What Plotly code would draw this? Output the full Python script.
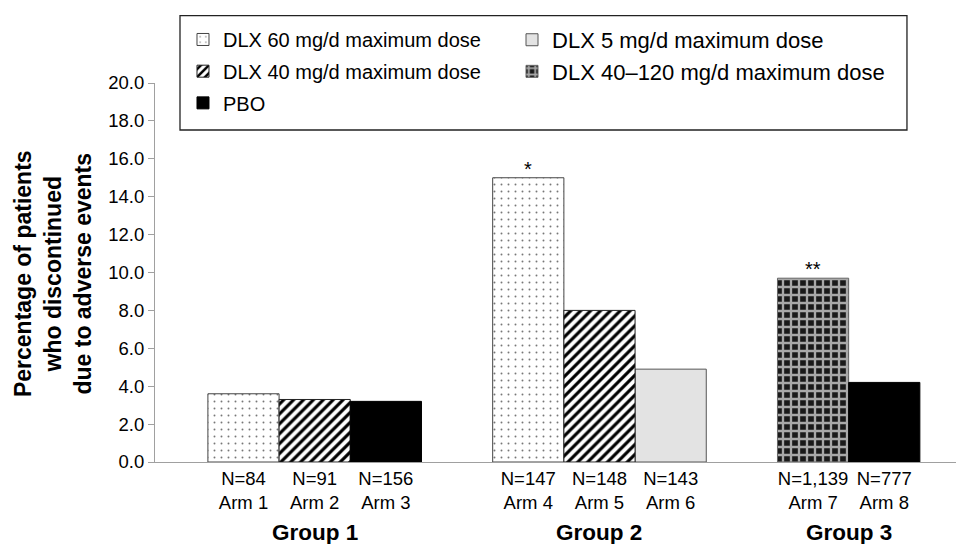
import plotly.graph_objects as go

# ---- data ----
series_names = ["DLX 60 mg/d maximum dose", "DLX 5 mg/d maximum dose",
                "DLX 40 mg/d maximum dose", "DLX 40\u2013120 mg/d maximum dose", "PBO"]
arm_pos = [1, 2, 3, 5, 6, 7, 9, 10]
arm_labels = ["N=84<br>Arm 1", "N=91<br>Arm 2", "N=156<br>Arm 3",
              "N=147<br>Arm 4", "N=148<br>Arm 5", "N=143<br>Arm 6",
              "N=1,139<br>Arm 7", "N=777<br>Arm 8"]
dlx60_x = [1, 5]
dlx60_y = [3.6, 15.0]
dlx5_x = [7]
dlx5_y = [4.9]
dlx40_x = [2, 6]
dlx40_y = [3.3, 8.0]
dlx40120_x = [9]
dlx40120_y = [9.7]
pbo_x = [3, 10]
pbo_y = [3.2, 4.2]
groups = ["Group 1", "Group 2", "Group 3"]
group_pos = [2, 6, 9.5]
stars = [(5, 15.0, "*"), (9, 9.7, "**")]

FONT = "Liberation Sans, Arial, sans-serif"

fig = go.Figure()
fig.add_trace(go.Bar(
    x=dlx60_x, y=dlx60_y, name=series_names[0], width=1, legend="legend",
    legendgroup="a1",
    marker=dict(color="white", line=dict(color="#444444", width=1),
                pattern=dict(shape=".", fgcolor="#777777", bgcolor="white",
                             size=7, solidity=0.06, fillmode="replace"))))
fig.add_trace(go.Bar(
    x=dlx5_x, y=dlx5_y, name=series_names[1], width=1, legend="legend2",
    legendgroup="b1",
    marker=dict(color="#e3e3e3", line=dict(color="#555555", width=1))))
fig.add_trace(go.Bar(
    x=dlx40_x, y=dlx40_y, name=series_names[2], width=1, legend="legend",
    legendgroup="a2",
    marker=dict(color="white", line=dict(color="#222222", width=1),
                pattern=dict(shape="/", fgcolor="black", bgcolor="white",
                             size=7, solidity=0.45, fillmode="replace"))))
fig.add_trace(go.Bar(
    x=dlx40120_x, y=dlx40120_y, name=series_names[3], width=1, legend="legend2",
    legendgroup="b2",
    marker=dict(color="#777777", line=dict(color="#666666", width=1),
                pattern=dict(shape="+", fgcolor="#a8a8a8", bgcolor="#1a1a1a",
                             size=8, solidity=0.5, fillmode="replace"))))
fig.add_trace(go.Bar(
    x=pbo_x, y=pbo_y, name=series_names[4], width=1, legend="legend",
    legendgroup="a3",
    marker=dict(color="black", line=dict(color="black", width=1))))

annotations = []
for x, y, t in stars:
    annotations.append(dict(x=x, y=y, xref="x", yref="y", text=t, showarrow=False,
                            yanchor="bottom", yshift=-4,
                            font=dict(family=FONT, size=20, color="black")))
for g, gx in zip(groups, group_pos):
    annotations.append(dict(x=gx, y=-0.1847, xref="x", yref="paper", text="<b>%s</b>" % g,
                            showarrow=False, yanchor="middle", xanchor="center",
                            font=dict(family=FONT, size=22.5, color="black")))
annotations.append(dict(x=-0.126, y=0.496, xref="paper", yref="paper",
                        text="<b>Percentage of patients<br>who discontinued<br>due to adverse events</b>",
                        textangle=-90, showarrow=False, align="center",
                        xanchor="center", yanchor="middle",
                        font=dict(family=FONT, size=23, color="black")))

fig.update_layout(
    width=956, height=536,
    margin=dict(l=147, r=0, t=75, b=82, autoexpand=False),
    paper_bgcolor="white", plot_bgcolor="white",
    barmode="overlay",
    font=dict(family=FONT, color="black"),
    showlegend=True,
    legend=dict(orientation="v", x=0.0346, y=1.1663, xanchor="left", yanchor="top",
                borderwidth=0, bgcolor="rgba(0,0,0,0)", tracegroupgap=2.7,
                font=dict(family=FONT, size=20, color="black"), traceorder="grouped"),
    legend2=dict(orientation="v", x=0.4413, y=1.169, xanchor="left", yanchor="top",
                 borderwidth=0, bgcolor="rgba(0,0,0,0)", tracegroupgap=0,
                 font=dict(family=FONT, size=22, color="black"), traceorder="grouped"),
    annotations=annotations,
    shapes=[dict(type="rect", xref="paper", yref="paper",
                 x0=0.0309, x1=0.9295, y0=0.876, y1=1.1776,
                 line=dict(color="#222222", width=1.3), fillcolor="rgba(0,0,0,0)",
                 layer="above")],
)
fig.update_xaxes(range=[-0.243, 11.12], tickvals=arm_pos, ticktext=arm_labels,
                 showline=True, linecolor="#a0a0a0", linewidth=1, ticks="",
                 showgrid=False, zeroline=False,
                 tickfont=dict(family=FONT, size=18.5, color="black"))
fig.update_yaxes(range=[0, 20], dtick=2, tickformat=".1f",
                 showline=True, linecolor="#a0a0a0", linewidth=1,
                 ticks="outside", ticklen=6, tickcolor="#a0a0a0",
                 showgrid=False, zeroline=False,
                 tickfont=dict(family=FONT, size=18.5, color="black"))

fig.write_html("out.html")
